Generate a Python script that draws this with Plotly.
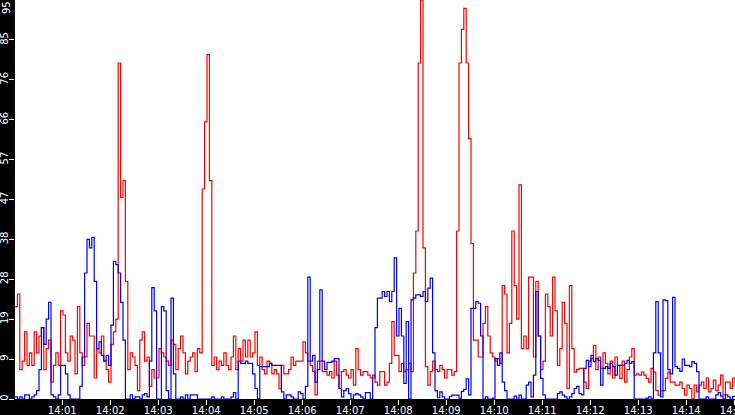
import plotly.graph_objects as go
import pandas as pd

# one sample every 3 s, 14:00:01 -> 14:15:01 (one row per minute)
start = '2024-01-01 14:00:01'
end = '2024-01-01 14:15:01'
times = pd.date_range(start, periods=301, freq='3s')

red_values = [
    22, 25, 7, 9, 16, 8, 11, 8, 16, 11, 15, 17, 7, 12, 14, 4, 8, 11, 8, 21,
    20, 11, 9, 15, 14, 6, 22, 11, 8, 10, 18, 15, 15, 5, 12, 11, 15, 9, 7, 4,
    13, 16, 19, 80, 48, 52, 28, 7, 11, 10, 8, 2, 14, 16, 9, 10, 3, 7, 5, 5,
    12, 11, 10, 9, 8, 14, 13, 7, 12, 15, 11, 6, 9, 10, 11, 6.5, 12, 11, 50, 66,
    82, 52, 8, 10, 7, 9, 8, 11, 8, 7, 10, 15, 7, 12, 9, 14, 10, 14, 10, 11,
    16, 8, 10, 7, 6, 9, 8.5, 6, 7, 6, 2.5, 8, 6, 6, 7, 10, 8, 9, 9, 9,
    13.6, 11, 9, 8, 6.5, 1, 9, 9, 6.5, 6.5, 5.7, 6.5, 5, 9, 5.7, 2.5, 6.5, 7, 5.7, 5,
    7, 3.3, 12, 7, 5.7, 6.5, 6.5, 5.7, 5, 5.7, 4, 3.3, 6.5, 6.5, 3.3, 4, 8.5, 18.4, 10.4, 10.4,
    6.5, 8.5, 6.5, 7, 8.5, 6.5, 30, 40, 80, 95, 36, 7.7, 3.3, 6.5, 9, 7, 6.5, 8, 7, 5,
    7, 7, 5.7, 6.5, 40, 80, 88, 93, 80, 62, 37, 14, 14, 10, 10, 18, 22, 15, 11, 10,
    9, 9.6, 8.5, 27, 25, 11, 18, 40, 27, 19, 51, 12, 15, 12, 29, 29, 10, 28, 15, 7,
    9, 25, 22, 15, 29, 21, 8, 12, 23, 18, 2.5, 27, 12, 6.4, 7, 7.3, 7.3, 4, 2.5, 9,
    9.6, 12.8, 7, 10, 7.3, 11, 8.5, 6, 9, 5, 10, 8, 4.9, 9, 4, 7, 10, 12, 5.7, 6,
    5.7, 6.4, 5.7, 4.9, 4, 7.3, 6.4, 2, 0.9, 2, 2, 4.9, 6.4, 4, 4, 3.3, 3.3, 4, 2.5, 0.9,
    3.3, 2.5, 0, 3.3, 1.7, 3.3, 4, 2.5, 5, 1.7, 2.5, 4.5, 2, 3.3, 5.7, 1, 4, 4, 2.5, 5,
    3.3,
]

blue_values = [
    0.5, 0, 0.5, 0, 1, 1, 0, 0.5, 1, 2, 7, 17, 13, 19, 23, 1, 0.5, 0, 1, 8,
    8, 6, 1, 0, 0, 0, 0, 3, 10, 30, 38, 36, 38.5, 28, 12, 13.6, 10.4, 9, 10.4, 8,
    17.6, 32.8, 32, 30, 23, 14, 0, 0, 1, 0, 0.5, 0.5, 0, 1, 1.3, 0.5, 9, 26.5, 21, 0,
    0, 22, 21, 2, 0, 24, 6, 0, 0, 0.5, 0, 1, 0, 1, 1, 1, 0, 0, 0, 0,
    0, 0, 0.5, 0, 0, 0, 0.5, 0, 0, 0, 0.5, 1.5, 0, 9, 8.5, 8.5, 9, 8.5, 8.5, 6,
    2.5, 0, 7.7, 7.7, 7.7, 7.7, 8.5, 8, 8, 8, 8, 1.7, 0, 1, 1, 0.5, 0, 0, 1.7, 1.3,
    0, 3, 29, 9, 10.4, 4, 7, 26, 9, 7, 8.7, 8.7, 9, 9.6, 9.6, 2.5, 0.5, 2, 2.5, 1.3,
    0, 1, 1.3, 1, 0.5, 0, 1.5, 1.5, 0, 5, 17, 24, 24, 25.6, 24.4, 25.6, 23.2, 25.6, 33.6, 15,
    21.6, 15, 3.7, 18.4, 0, 23.6, 24, 24.8, 24.8, 24.4, 25.6, 23.2, 26.4, 28.8, 11, 2, 0.3, 1.7, 0.5, 0,
    0, 0.6, 0.9, 0.9, 0.9, 0.2, 1.8, 2.3, 4.8, 1, 21.6, 21.6, 23.2, 22.8, 15, 0, 0.5, 0, 0, 0.2,
    9.6, 8, 11, 4, 2, 0, 0, 0, 0.7, 0, 0.9, 0, 0, 3.3, 4, 0.5, 5.7, 25.6, 15, 4.9,
    1, 0, 0, 0, 0, 0, 1.3, 1.7, 0.9, 0.5, 0, 0.5, 1.3, 2.5, 3, 1.3, 1, 7.3, 9.2, 7.7,
    10.4, 8.9, 9.6, 9.2, 3.3, 7.3, 7.7, 7.3, 8.5, 7.7, 5.7, 8, 8, 8, 8.5, 9.2, 8.5, 8.9, 0, 0,
    0, 0, 0, 0.2, 0.5, 0, 11, 23.2, 11, 0.5, 23.6, 23.4, 7, 6, 24.2, 7.7, 7.3, 6.6, 9.5, 8,
    8, 7.7, 8.9, 8.5, 6.5, 0, 0, 0, 0.5, 0, 0, 0, 1, 1.5, 0.7, 0, 1, 0.5, 0, 0.6,
    0.9,
]

y_tickvals = [0, 9.5, 19, 28.5, 38, 47.5, 57, 66.5, 76, 85.5]
y_ticktext = ['0', '9', '19', '28', '38', '47', '57', '66', '76', '85']
y_top_label = '95'

font = dict(family='DejaVu Sans', size=10, color='white')

fig = go.Figure()

fig.add_trace(go.Scatter(
    x=times, y=red_values, mode='lines', line_shape='hv',
    line=dict(color='rgb(255,0,0)', width=1.2), hoverinfo='skip'
))
fig.add_trace(go.Scatter(
    x=times, y=blue_values, mode='lines', line_shape='hv',
    line=dict(color='rgb(0,0,255)', width=1.2), hoverinfo='skip'
))

fig.update_layout(
    width=735, height=415,
    margin=dict(l=15, r=0, t=0, b=16),
    paper_bgcolor='black',
    plot_bgcolor='white',
    showlegend=False,
    xaxis=dict(
        type='date', range=[start, end],
        tickformat='%H:%M', dtick=60000, tick0='2024-01-01 14:00:00',
        ticks='outside', ticklen=5, tickwidth=1, tickcolor='white',
        tickfont=font, showgrid=False, zeroline=False, showline=False,
        ticklabeloverflow='allow', ticklabelstandoff=-3, automargin=False,
    ),
    yaxis=dict(
        range=[0, 95], tickvals=y_tickvals, ticktext=y_ticktext,
        tickangle=-90, ticks='outside', ticklen=5, tickwidth=1, tickcolor='white',
        tickfont=font, showgrid=False, zeroline=False, showline=False,
        ticklabeloverflow='allow', ticklabelstandoff=-3, automargin=False,
    ),
    # the top label would be clipped at the edge, so it sits just below it
    annotations=[dict(
        text=y_top_label, textangle=-90, showarrow=False,
        xref='paper', yref='paper', x=-0.0118, y=1,
        xanchor='center', yanchor='top', font=font, borderpad=0,
    )],
)

# the page has a default 8px body margin; remove it so the figure sits at 0,0
fig.write_html("out.html", config={'displayModeBar': False},
               post_script="document.body.style.margin='0';")
